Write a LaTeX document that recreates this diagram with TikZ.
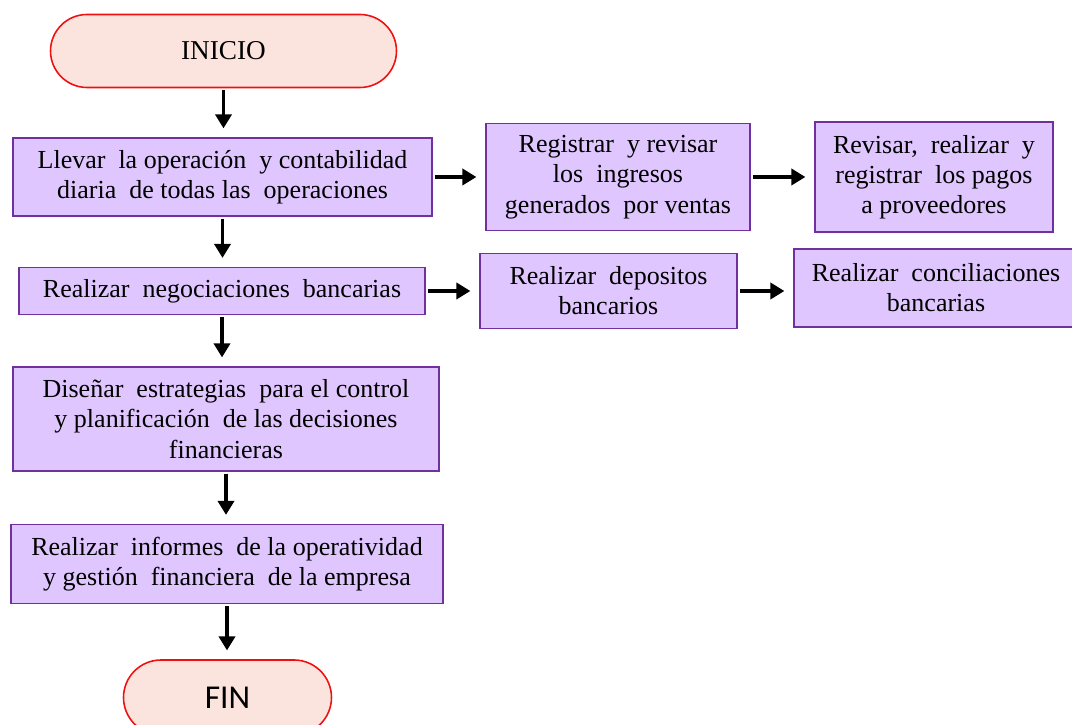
\documentclass[tikz,border=0pt]{standalone}
\usepackage{fontspec}
\setmainfont{Liberation Serif}
\newfontfamily\finfont{Carlito}
\usetikzlibrary{arrows.meta,shapes.misc}

\definecolor{boxfill}{HTML}{E0C6FE}
\definecolor{boxline}{HTML}{7030A0}
\definecolor{capfill}{HTML}{FCE4DE}
\definecolor{capline}{HTML}{F01010}

\tikzset{
  taskbox/.style={draw=boxline, line width=0.9pt, fill=boxfill, align=center,
    inner sep=2pt, font=\fontsize{14.8}{17.2}\selectfont},
  capsule/.style={draw=capline, line width=0.9pt, fill=capfill, rounded rectangle,
    inner sep=2pt},
  flow/.style={line width=2.2pt, -{Triangle[length=0.28cm, width=0.32cm]},
    shorten <=1pt, shorten >=5pt}
}

\begin{document}
\begin{tikzpicture}
    \useasboundingbox (0,0) rectangle (21.44,14.5);

    % start and end
    \node[capsule, minimum width=7.06cm, minimum height=1.46cm,
          font=\fontsize{15.5}{17}\selectfont] (inicio) at (4.47,13.48) {INICIO};
    \node[capsule, minimum width=4.3cm, minimum height=1.5cm,
          font=\finfont\fontsize{19}{20}\selectfont] (fin) at (4.55,0.55) {FIN};

    % main column
    \node[taskbox, minimum width=8.38cm, minimum height=1.56cm] (llevar) at (4.45,10.96)
        {Llevar \ la operación \ y contabilidad\\diaria \ de todas las \ operaciones};
    \node[taskbox, minimum width=8.12cm, minimum height=0.94cm] (negociar) at (4.44,8.68)
        {Realizar \ negociaciones \ bancarias};
    \node[taskbox, minimum width=8.52cm, minimum height=2.08cm] (disenar) at (4.52,6.12)
        {Diseñar \ estrategias \ para el control\\y planificación \ de las decisiones\\financieras};
    \node[taskbox, minimum width=8.64cm, minimum height=1.58cm] (informes) at (4.54,3.22)
        {Realizar \ informes \ de la operatividad\\y gestión \ financiera \ de la empresa};

    % side branches
    \node[taskbox, minimum width=5.28cm, minimum height=2.14cm] (registrar) at (12.36,10.96)
        {Registrar \ y revisar\\los \ ingresos\\generados \ por ventas};
    \node[taskbox, minimum width=4.76cm, minimum height=2.2cm] (revisar) at (18.68,10.96)
        {Revisar, \ realizar \ y\\registrar \ los pagos\\a proveedores};
    \node[taskbox, minimum width=5.14cm, minimum height=1.5cm] (depositos) at (12.17,8.68)
        {Realizar \ depositos\\bancarios};
    \node[taskbox, minimum width=5.68cm, minimum height=1.56cm] (conciliar) at (18.72,8.74)
        {Realizar \ conciliaciones\\bancarias};

    % connectors
    \draw[flow] (inicio.south) -- (inicio.south |- llevar.north);
    \draw[flow] (llevar.south) -- (llevar.south |- negociar.north);
    \draw[flow] (negociar.south) -- (negociar.south |- disenar.north);
    \draw[flow] (disenar.south) -- (disenar.south |- informes.north);
    \draw[flow] (informes.south) -- (informes.south |- fin.north);
    \draw[flow] (llevar.east) -- (registrar.west |- llevar.east);
    \draw[flow] (registrar.east) -- (revisar.west |- registrar.east);
    \draw[flow] (negociar.east) -- (depositos.west |- negociar.east);
    \draw[flow] (depositos.east) -- (conciliar.west |- depositos.east);
\end{tikzpicture}
\end{document}
